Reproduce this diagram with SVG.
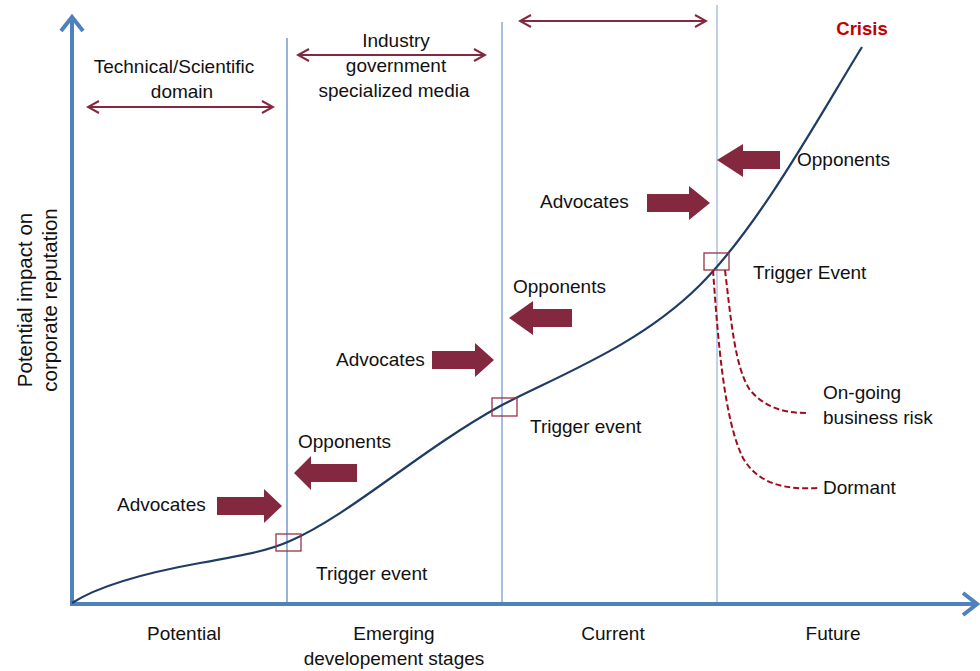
<svg xmlns="http://www.w3.org/2000/svg" width="980" height="671" viewBox="0 0 980 671">
<defs>
<style>
text{font-family:"Liberation Sans",Arial,sans-serif;font-size:19px;fill:#111}
.c{text-anchor:middle}
.yl{font-size:20.5px}
.axis{stroke:#4F81BD;stroke-width:4;fill:none}
.div{stroke:#4F81BD;stroke-width:1.2;fill:none}
.span{stroke:#84283F;stroke-width:2;fill:none}
.blk{fill:#84283F}
.box{fill:none;stroke:#953546;stroke-width:1.3}
.dash{fill:none;stroke:#A00C1E;stroke-width:2;stroke-dasharray:6 3}
.curve{fill:none;stroke:#1F3C64;stroke-width:2.2}
</style>
<marker id="dh" viewBox="0 0 14 14" refX="12" refY="7" markerWidth="14" markerHeight="14" markerUnits="userSpaceOnUse" orient="auto-start-reverse">
<path d="M1,1 L12,7 L1,13" fill="none" stroke="#84283F" stroke-width="2"/>
</marker>
</defs>
<rect width="980" height="671" fill="#fff"/>

<g id="axes">
<path class="axis" d="M72,606 V17"/>
<path class="axis" d="M61,31 L72,17 L83,31"/>
<path class="axis" d="M70,604 H976"/>
<path class="axis" d="M963,593 L977,604 L963,615"/>
</g>

<g id="dividers">
<path class="div" d="M287,38 V604" stroke="#3F6FB5"/>
<path class="div" d="M502,22 V604" stroke-opacity="0.85"/>
<path class="div" d="M717,5 V604" stroke-opacity="0.6"/>
</g>

<g id="connectors">
<path class="span" d="M88,107 H273" marker-start="url(#dh)" marker-end="url(#dh)"/>
<path class="span" d="M298,55 H485" marker-start="url(#dh)" marker-end="url(#dh)"/>
<path class="span" d="M520,21 H706" marker-start="url(#dh)" marker-end="url(#dh)"/>
<path class="curve" d="M72,603 C100,585 150,572 200,563 S270,550 290,541 C350,515 420,450 502,405 C560,375 640,345 700,285 C760,225 820,115 862,47"/>
<path class="dash" d="M713,270 C718,340 724,420 743,458 C758,484 785,490 818,488"/>
<path class="dash" d="M725,270 C731,320 735,368 750,390 C765,408 785,413 806,413"/>
</g>

<g id="y-label">
<text class="c yl" transform="translate(32,300) rotate(-90)">Potential impact on</text>
<text class="c yl" transform="translate(57,300) rotate(-90)">corporate reputation</text>
</g>

<g id="domain-technical">
<text class="c" x="174" y="73">Technical/Scientific</text>
<text class="c" x="182" y="98">domain</text>
</g>
<g id="domain-industry">
<text class="c" x="396" y="47">Industry</text>
<text class="c" x="396" y="72">government</text>
<text class="c" x="394" y="97">specialized media</text>
</g>
<g id="crisis">
<text class="c" x="862" y="35" style="font-weight:bold;font-size:18.5px;fill:#C00000">Crisis</text>
</g>

<g id="stage1-advocates">
<text x="117" y="511">Advocates</text>
<path class="blk" d="M217,497 H264 V489 L282,506 L264,523 V515 H217 Z"/>
</g>
<g id="stage1-opponents">
<text x="298" y="448">Opponents</text>
<path class="blk" d="M357,464 H311 V456 L294,473 L311,490 V482 H357 Z"/>
</g>
<g id="trigger1">
<rect class="box" x="276" y="534" width="25" height="17"/>
<text x="316" y="580">Trigger event</text>
</g>

<g id="stage2-advocates">
<text x="336" y="366">Advocates</text>
<path class="blk" d="M432,351 H475 V343 L494,360 L475,377 V369 H432 Z"/>
</g>
<g id="stage2-opponents">
<text x="513" y="293">Opponents</text>
<path class="blk" d="M572,309 H533 V301 L509,318 L533,335 V327 H572 Z"/>
</g>
<g id="trigger2">
<rect class="box" x="492" y="398" width="25" height="18"/>
<text x="530" y="433">Trigger event</text>
</g>

<g id="stage3-advocates">
<text x="540" y="208">Advocates</text>
<path class="blk" d="M647,194 H689 V186 L710,203 L689,220 V212 H647 Z"/>
</g>
<g id="stage3-opponents">
<text x="797" y="166">Opponents</text>
<path class="blk" d="M780,151 H743 V144 L717,160 L743,177 V169 H780 Z"/>
</g>
<g id="trigger3">
<rect class="box" x="704" y="253" width="25" height="17"/>
<text x="753" y="279">Trigger Event</text>
</g>

<g id="outcome-ongoing">
<text x="823" y="399">On-going</text>
<text x="823" y="424">business risk</text>
</g>
<g id="outcome-dormant">
<text x="823" y="494">Dormant</text>
</g>

<g id="stage-labels">
<text class="c" x="184" y="640">Potential</text>
<text class="c" x="394" y="640">Emerging</text>
<text class="c" x="394" y="665">developement stages</text>
<text class="c" x="613" y="640">Current</text>
<text class="c" x="833" y="640">Future</text>
</g>
</svg>
